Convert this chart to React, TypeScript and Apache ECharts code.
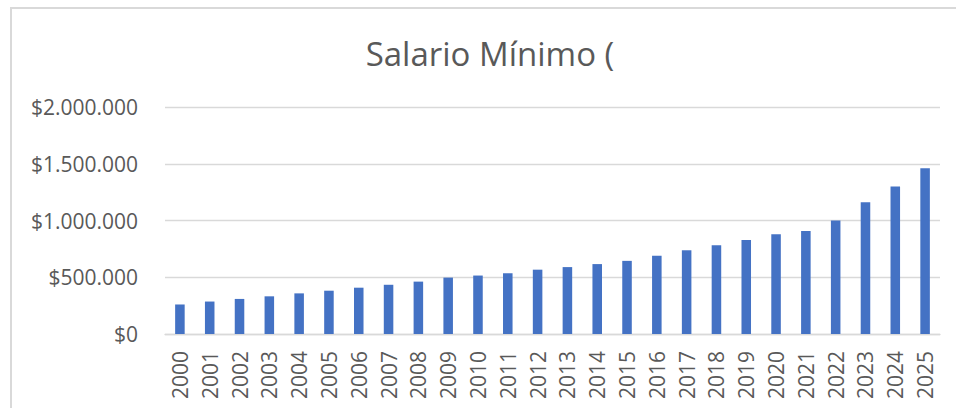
import React, { useEffect, useRef } from "react";
import * as echarts from "echarts";

const years: string[] = [
  "2000", "2001", "2002", "2003", "2004", "2005", "2006", "2007", "2008",
  "2009", "2010", "2011", "2012", "2013", "2014", "2015", "2016", "2017",
  "2018", "2019", "2020", "2021", "2022", "2023", "2024", "2025",
];

const salarioMinimo: number[] = [
  260100, 286000, 309000, 332000, 358000, 381500, 408000, 433700, 461500,
  496900, 515000, 535600, 566700, 589500, 616000, 644350, 689455, 737717,
  781242, 828116, 877803, 908526, 1000000, 1160000, 1300000, 1460000,
];

const titleText = "Salario Mínimo (";
const yTicks = { min: 0, max: 2000000, interval: 500000 };

function formatPeso(v: number): string {
  const s = Math.round(v).toString().replace(/\B(?=(\d{3})+(?!\d))/g, ".");
  return "$" + s;
}

export default function App() {
  const ref = useRef<HTMLDivElement>(null);

  useEffect(() => {
    if (!ref.current) return;
    const chart = echarts.init(ref.current, null, { renderer: "svg" });
    const font = "'Open Sans', 'Liberation Sans', sans-serif";
    chart.setOption({
      animation: false,
      backgroundColor: "#ffffff",
      graphic: [
        {
          type: "rect",
          shape: { x: 11, y: 8, width: 1000, height: 500 },
          style: { fill: "none", stroke: "#D9D9D9", lineWidth: 2 },
          silent: true,
        },
        {
          type: "text",
          x: 490,
          y: 53,
          style: {
            text: titleText,
            fontFamily: font,
            fontSize: 33,
            fill: "#595959",
            textAlign: "center",
            textVerticalAlign: "middle",
          },
        },
      ],
      grid: { left: 165, right: 16, top: 107, bottom: 74, containLabel: false },
      xAxis: {
        type: "category",
        data: years,
        axisLine: { show: true, lineStyle: { color: "#D9D9D9", width: 1.3 } },
        axisTick: { show: false },
        axisLabel: {
          rotate: 90,
          margin: 17,
          fontSize: 21,
          fontFamily: font,
          color: "#595959",
          interval: 0,
        },
      },
      yAxis: {
        type: "value",
        min: yTicks.min,
        max: yTicks.max,
        interval: yTicks.interval,
        axisLine: { show: false },
        axisTick: { show: false },
        splitLine: { lineStyle: { color: "#D9D9D9", width: 1.3 } },
        axisLabel: {
          margin: 27,
          fontSize: 21,
          fontFamily: font,
          color: "#595959",
          formatter: (v: number) => formatPeso(v),
        },
      },
      series: [
        {
          type: "bar",
          data: salarioMinimo,
          barWidth: "32%",
          itemStyle: { color: "#4472C4" },
        },
      ],
    });
    return () => chart.dispose();
  }, []);

  return (
    <div
      ref={ref}
      style={{ position: "fixed", left: 0, top: 0, width: 956, height: 408 }}
    />
  );
}
